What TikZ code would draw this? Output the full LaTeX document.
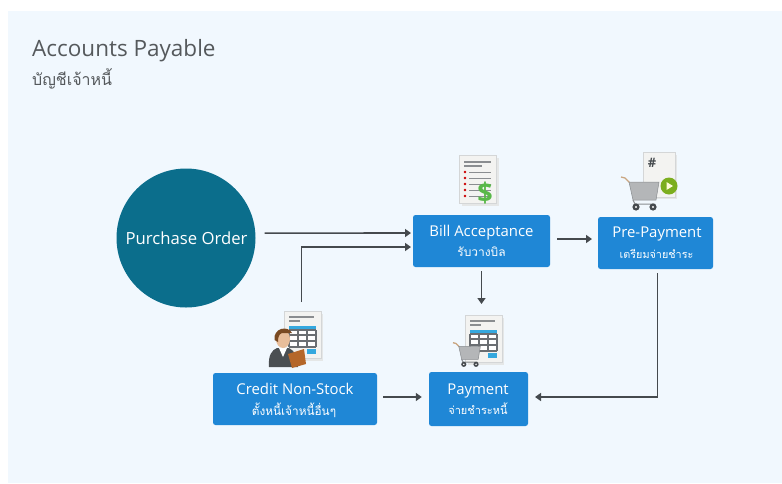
\documentclass[tikz,border=0pt]{standalone}
\usepackage{fontspec}
\setmainfont{Open Sans}
\newfontfamily\thaifont[Script=Thai]{Loma}
\usetikzlibrary{arrows.meta}
\definecolor{panelbg}{HTML}{F1F8FE}
\definecolor{boxblue}{HTML}{1F87D6}
\definecolor{circteal}{HTML}{0B6E8C}
\definecolor{arrowgrey}{HTML}{454A4E}
\definecolor{titlegrey}{HTML}{55595C}
\definecolor{paper}{HTML}{F3F3F1}
\definecolor{paperedge}{HTML}{D4D6D7}
\definecolor{linegrey}{HTML}{8A8D90}
\definecolor{tablecyan}{HTML}{35A8DE}
\definecolor{tablegrey}{HTML}{6A6E72}
\definecolor{greenmoney}{HTML}{58B848}
\definecolor{cartgrey}{HTML}{B4B6B8}
\definecolor{playgreen}{HTML}{7CAE1E}
\definecolor{hairbrown}{HTML}{7A4A22}
\definecolor{skintone}{HTML}{E9BE9A}
\definecolor{suitgrey}{HTML}{4A4F52}
\definecolor{folderorange}{HTML}{B5672A}
\tikzset{
  x=1pt,y=-1pt,
  stepbox/.style={fill=boxblue,rounded corners=2.5pt,inner sep=0pt,align=center,text=white},
  arr/.style={draw=arrowgrey,line width=1.6pt,-{Triangle[length=6pt,width=8pt]}},
  mainlabel/.style={text=white,inner sep=0pt,anchor=base,font=\fontsize{14.9}{17}\selectfont},
  thailabel/.style={text=white,inner sep=0pt,anchor=base,font=\fontsize{#1}{14}\selectfont\thaifont},
  doc/.style={fill=paper,draw=paperedge,line width=.5pt},
  docline/.style={draw=linegrey,line width=1pt},
  pics/invoice/.style={code={
    \fill[paperedge!60] (3,3) rectangle (39,50);
    \path[doc] (0,0) rectangle (37,47);
    \fill[linegrey] (5,5) rectangle (30,7);
    \fill[linegrey] (5,9) rectangle (16,11);
    \fill[tablecyan] (5,15) rectangle (32,19);
    \fill[white] (5,19) rectangle (32,36);
    \foreach \yy in {19,24,30,36}{\draw[tablegrey,line width=1.1pt] (5,\yy) -- (32,\yy);}
    \foreach \xx in {5,14,23,32}{\draw[tablegrey,line width=1.1pt] (\xx,19) -- (\xx,36);}
    \fill[tablecyan] (23,38) rectangle (32,43);
  }},
  pics/cart/.style={code={
    \draw[cartgrey!70!orange,line width=1.3pt] (0,1) -- (4,2) -- (9,7);
    \fill[cartgrey,draw=linegrey,line width=.5pt] (8,6) -- (38,6) -- (35,24) -- (12,24) -- cycle;
    \draw[linegrey,line width=1pt] (12,24) -- (14,28) -- (34,28);
    \fill[arrowgrey] (15,31) circle (3.6);
    \fill[arrowgrey] (32,31) circle (3.6);
    \fill[white] (15,31) circle (1.2);
    \fill[white] (32,31) circle (1.2);
  }},
}
\begin{document}
\begin{tikzpicture}
\useasboundingbox (0,0) rectangle (782,483);
\fill[white] (0,0) rectangle (782,483);
\fill[panelbg] (8,11) rectangle (782,483);

% Title
\node[anchor=base west,inner sep=0pt,text=titlegrey,font=\fontsize{22.5}{26}\selectfont] (title) at (32,56.5) {Accounts Payable};
\node[anchor=base west,inner sep=0pt,text=titlegrey,font=\fontsize{16}{18}\selectfont\thaifont] (subtitle) at (32,85) {บัญชีเจ้าหนี้};

% Nodes
\node[circle,fill=circteal,minimum size=139pt,inner sep=0pt] (po) at (186,238) {};
\node[text=white,inner sep=0pt,anchor=base,font=\fontsize{16.7}{18}\selectfont] (polabel) at (186.5,244) {Purchase Order};
\node[stepbox,minimum width=137pt,minimum height=52pt] (bill) at (481.5,241) {};
\node[stepbox,minimum width=115pt,minimum height=52pt] (pre) at (655.5,243) {};
\node[stepbox,minimum width=164pt,minimum height=52pt] (credit) at (295,399) {};
\node[stepbox,minimum width=99pt,minimum height=54pt] (pay) at (478.5,399) {};

% Box texts
\node[mainlabel] (billa) at (481.5,236) {Bill Acceptance};
\node[thailabel=12] (billb) at (481.5,256.5) {รับวางบิล};
\node[mainlabel] (prea) at (657,237) {Pre-Payment};
\node[thailabel=10.8] (preb) at (656.5,258) {เตรียมจ่ายชำระ};
\node[mainlabel] (credita) at (295,394) {Credit Non-Stock};
\node[thailabel=11.8] (creditb) at (294,415) {ตั้งหนี้เจ้าหนี้อื่นๆ};
\node[mainlabel] (paya) at (478,394) {Payment};
\node[thailabel=11] (payb) at (478,414.5) {จ่ายชำระหนี้};

% Connectors
\coordinate (billtop) at (413,233);
\coordinate (billlow) at (413,247);
\coordinate (creditup) at (301.5,302);
\coordinate (prein) at (657.5,269);
\coordinate (payin) at (528,397);
\coordinate (creditout) at (377,397);
\coordinate (billout) at (550,239);
\coordinate (prewest) at (598,239);
\coordinate (billdown) at (481.5,304);
\draw[arr,shorten <=9pt,shorten >=2pt] (po.4) -- (billtop);
\draw[arr,shorten >=2pt] (creditup) |- (billlow);
\draw[arr,shorten <=7pt,shorten >=6pt] (billout) -- (prewest);
\draw[arr,shorten <=4pt] (bill.south) -- (billdown);
\draw[arr,shorten <=6pt,shorten >=7pt] (creditout) -- (creditout -| pay.west);
\draw[arr,shorten <=4pt,shorten >=7pt] (prein) |- (payin);

% Bill icon
\fill[paperedge!60] (462,158) rectangle (499,206);
\path[doc] (459,155) rectangle (496,203);
\fill[linegrey] (464,161) rectangle (491,162.5);
\fill[linegrey] (464,165) rectangle (482,166.5);
\foreach \yy in {172,178,184,190,196}{
  \fill[red!80!black] (465,\yy) circle (1.3);
  \draw[docline] (469,\yy) -- (491,\yy);
}
\node[text=greenmoney,inner sep=0pt,font=\fontsize{27}{27}\bfseries\selectfont] (dollar) at (485,193) {\$};

% Pre-payment icon
\fill[paperedge!60] (646,155) rectangle (677,199);
\path[doc] (643,152) rectangle (675,197);
\node[text=arrowgrey,inner sep=0pt,font=\fontsize{13}{13}\bfseries\selectfont] (hash) at (652,163) {\#};
\pic at (621,176) {cart};
\fill[playgreen] (669,186) circle (8.5);
\fill[white!85!yellow] (666.5,182) -- (673,186) -- (666.5,190) -- cycle;

% Credit icon
\pic at (284,311) {invoice};
\fill[suitgrey] (269,367) .. controls (268,355) and (272,350) .. (277,348) -- (289,348) .. controls (295,351) and (298,357) .. (298,367) -- cycle;
\fill[white] (279,348) -- (283,357) -- (287,348) -- cycle;
\fill[skintone] (283,339) ellipse (7 and 9);
\fill[hairbrown] (274.5,340) .. controls (273,328) and (288,325) .. (292,333) -- (282,333) .. controls (279,334) and (278,337) .. (278,342) -- cycle;
\fill[folderorange] (288,354) -- (304,349) -- (306,364) -- (292,368) -- cycle;

% Payment icon
\pic at (465,315) {invoice};
\pic[transform shape,scale=.72] at (453,342) {cart};
\end{tikzpicture}
\end{document}
